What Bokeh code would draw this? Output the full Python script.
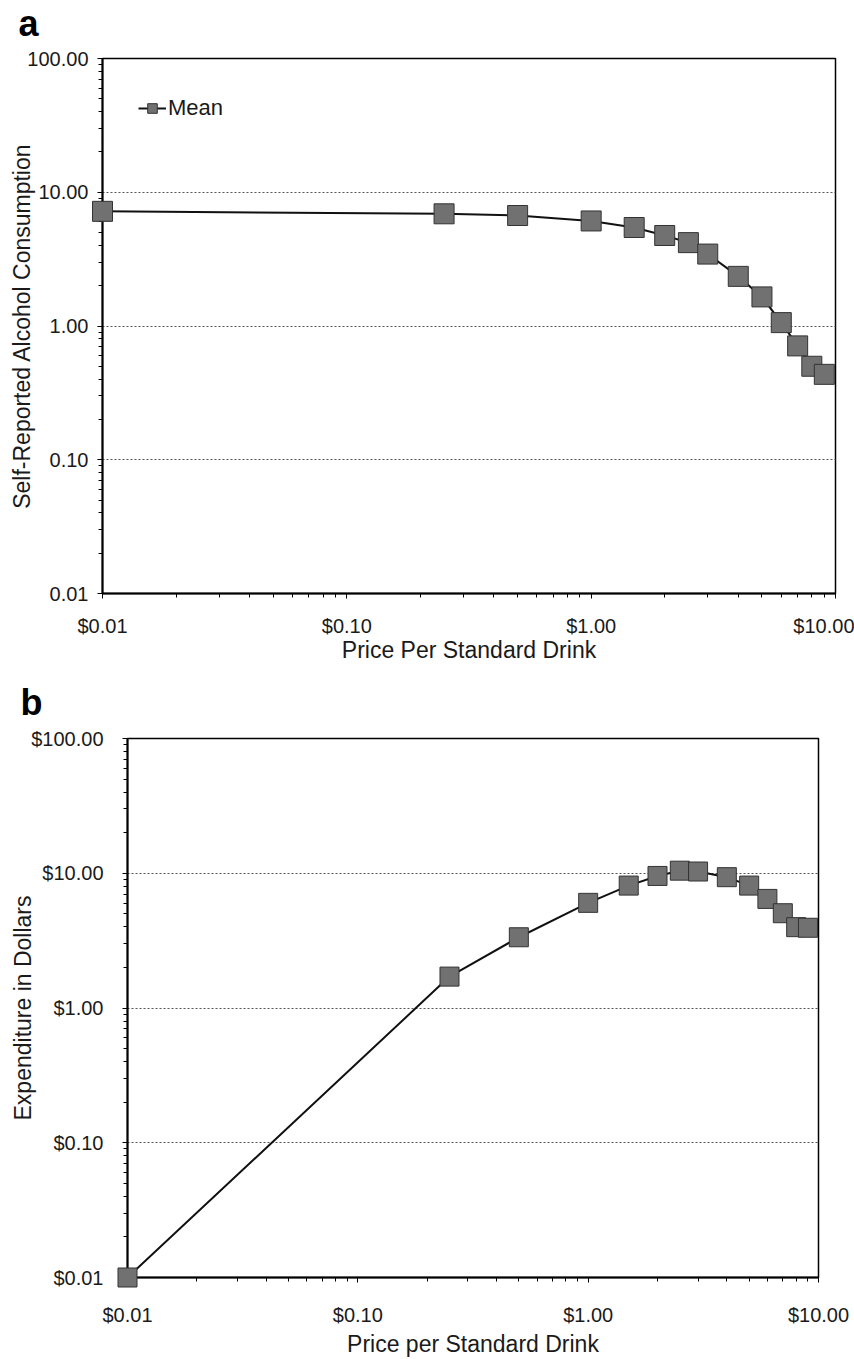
from bokeh.plotting import figure
from bokeh.models import Range1d, FixedTicker, PrintfTickFormatter
from bokeh.core.properties import value
from bokeh.embed import file_html
from bokeh.resources import INLINE

# ---- data ----
price = [0.01, 0.25, 0.50, 1.00, 1.50, 2.00, 2.50, 3.00, 4.00, 5.00, 6.00, 7.00, 8.00, 9.00]
consumption = [7.2, 6.9, 6.7, 6.1, 5.45, 4.75, 4.2, 3.45, 2.35, 1.65, 1.06, 0.71, 0.50, 0.435]
expenditure = [0.01, 1.71, 3.35, 6.03, 8.1, 9.55, 10.45, 10.3, 9.35, 8.1, 6.45, 5.05, 3.98, 3.94]

y_major = [0.01, 0.1, 1, 10, 100]
x_major = [0.01, 0.1, 1, 10]
x_lo, x_hi = 0.01, 10
y_lo, y_hi = 0.01, 100

FONT = "Liberation Sans"
TXT = "#1a1a1a"
MARK_FILL = "#717171"
MARK_LINE = "#333333"


def minor_ticks(lo_exp, hi_exp):
    return [k * 10.0 ** e for e in range(lo_exp, hi_exp) for k in range(2, 10)]


def style(p, ylab, xlab, yfmt, y_std, y_lab_std, x_std, x_lab_std):
    p.background_fill_color = "white"
    p.border_fill_color = "white"
    p.outline_line_color = "black"
    p.outline_line_width = 1.5
    p.xgrid.visible = False
    p.ygrid.grid_line_color = "#555555"
    p.ygrid.grid_line_dash = "2 2"
    p.ygrid.grid_line_width = 1
    p.xaxis.ticker = FixedTicker(ticks=x_major, minor_ticks=minor_ticks(-2, 1))
    p.yaxis.ticker = FixedTicker(ticks=y_major, minor_ticks=minor_ticks(-2, 2))
    p.ygrid.ticker = FixedTicker(ticks=y_major)
    p.xaxis.formatter = PrintfTickFormatter(format="$%.2f")
    p.yaxis.formatter = PrintfTickFormatter(format=yfmt)
    for ax in (p.xaxis, p.yaxis):
        ax.axis_line_color = "black"
        ax.axis_line_width = 2
        ax.major_tick_line_color = "black"
        ax.minor_tick_line_color = "black"
        ax.major_tick_out = 5
        ax.major_tick_in = 0
        ax.minor_tick_out = 4
        ax.minor_tick_in = 0
        ax.major_label_text_font = FONT
        ax.major_label_text_font_size = "20px"
        ax.major_label_text_color = TXT
        ax.axis_label_text_font = FONT
        ax.axis_label_text_font_size = "23px"
        ax.axis_label_text_font_style = "normal"
        ax.axis_label_text_color = TXT
    p.yaxis.axis_label = ylab
    p.xaxis.axis_label = xlab
    p.yaxis.major_label_standoff = y_std
    p.yaxis.axis_label_standoff = y_lab_std
    p.xaxis.major_label_standoff = x_std
    p.xaxis.axis_label_standoff = x_lab_std


def panel_letter(p, letter, dx, dy):
    r = p.text(x=[x_lo], y=[y_hi], text=[letter], x_offset=dx, y_offset=dy,
               text_font=value(FONT), text_font_size="36px", text_font_style="bold",
               text_color="black", text_baseline="alphabetic", text_align="left")
    r.level = "overlay"


# ---------------- panel a ----------------
pa = figure(width=854, height=666, x_axis_type="log", y_axis_type="log",
            x_range=Range1d(x_lo, x_hi), y_range=Range1d(y_lo, y_hi),
            output_backend="svg", toolbar_location=None,
            min_border_left=102, min_border_right=19,
            min_border_top=58, min_border_bottom=73)
style(pa, "Self-Reported Alcohol Consumption", "Price Per Standard Drink",
      "%.2f", 9, -11, 16, -3)
pa.line(price, consumption, line_color="#111111", line_width=2, legend_label="Mean")
ra = pa.scatter(price, consumption, marker="square", size=20,
                fill_color=MARK_FILL, line_color=MARK_LINE, line_width=1,
                legend_label="Mean")
ra.level = "overlay"
lg = pa.legend[0]
lg.location = (36, 472)
lg.padding = 0
lg.margin = 0
lg.spacing = 0
lg.glyph_width = 28
lg.glyph_height = 24
lg.label_standoff = 2
lg.label_text_font = FONT
lg.label_text_font_size = "22px"
lg.label_text_color = TXT
lg.background_fill_alpha = 0
lg.border_line_alpha = 0
panel_letter(pa, "a", -84, -35)

# ---------------- panel b ----------------
pb = figure(width=854, height=693, x_axis_type="log", y_axis_type="log",
            x_range=Range1d(x_lo, x_hi), y_range=Range1d(y_lo, y_hi),
            output_backend="svg", toolbar_location=None,
            min_border_left=127, min_border_right=36,
            min_border_top=72, min_border_bottom=82)
style(pb, "Expenditure in Dollars", "Price per Standard Drink",
      "$%.2f", 19, -8, 21, 2)
pb.line(price, expenditure, line_color="#111111", line_width=2)
rb = pb.scatter(price, expenditure, marker="square", size=19,
                fill_color=MARK_FILL, line_color=MARK_LINE, line_width=1)
rb.level = "overlay"
panel_letter(pb, "b", -107, -36)

open("out.html", "w").write(file_html([pa, pb], INLINE))
